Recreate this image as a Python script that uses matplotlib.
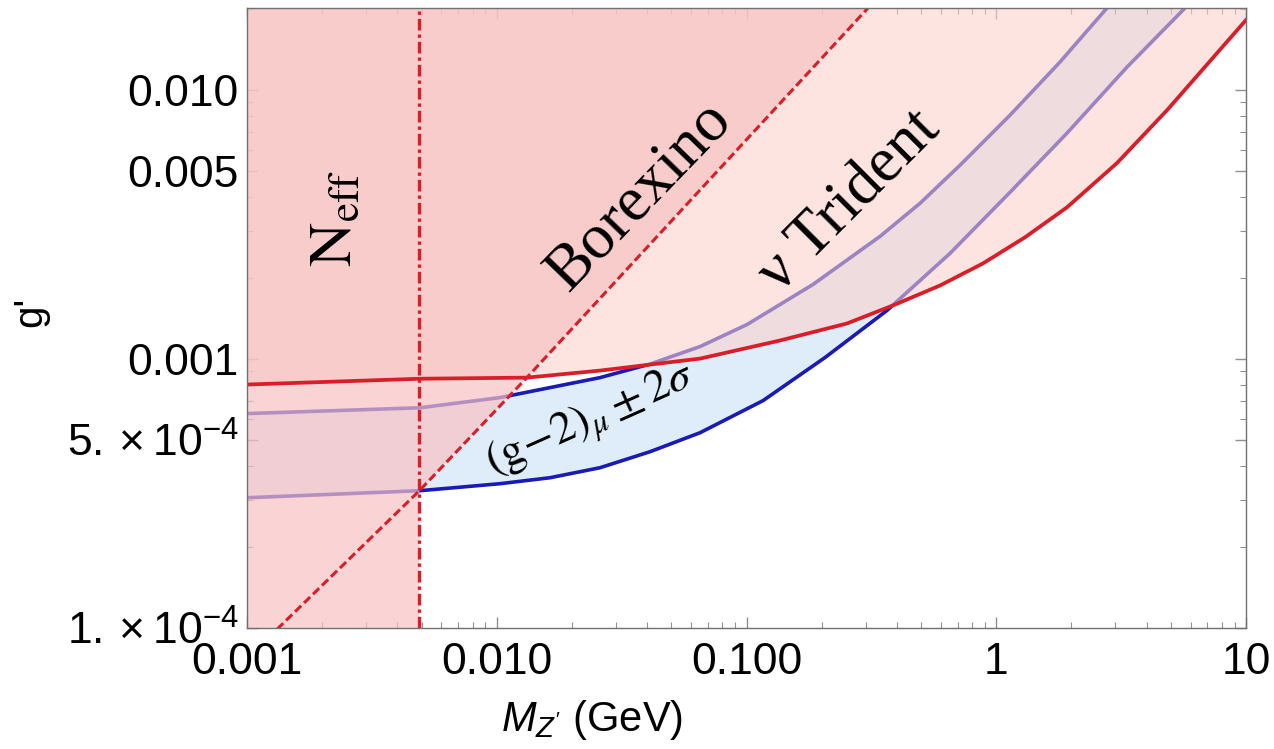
import numpy as np
import matplotlib
matplotlib.use('Agg')
import matplotlib.pyplot as plt
from matplotlib.ticker import FixedLocator, FixedFormatter, NullFormatter

plt.rcParams['font.family'] = ['Liberation Sans', 'DejaVu Sans']
plt.rcParams['mathtext.fontset'] = 'custom'
plt.rcParams['mathtext.rm'] = 'Liberation Sans'
plt.rcParams['mathtext.it'] = 'Liberation Sans:italic'

# ---------------- data ----------------
x_range = [0.001, 10.0]
y_range = [1.0e-4, 0.0202]

neff_mass = 0.0049  # N_eff bound (GeV)

bor_x = [0.00132, 0.0049, 0.0132, 0.3065]
bor_y = [9.9e-5, 3.24e-4, 8.53e-4, 0.0202]

tri_x = [0.001, 0.00493, 0.0132, 0.0259, 0.0652, 0.136, 0.2524, 0.386, 0.596, 0.885,
         1.303, 1.92, 3.04, 4.828, 7.66, 10.0]
tri_y = [8.04e-4, 8.45e-4, 8.53e-4, 9.06e-4, 1.004e-3, 1.172e-3, 1.356e-3, 1.583e-3,
         1.878e-3, 2.268e-3, 2.835e-3, 3.666e-3, 5.35e-3, 8.42e-3, 1.374e-2, 1.822e-2]

g2u_x = [0.001, 0.00493, 0.0103, 0.0259, 0.04108, 0.0652, 0.1005, 0.1846, 0.3423,
         0.4951, 0.716, 1.1353, 1.80, 2.776]
g2u_y = [6.27e-4, 6.59e-4, 7.19e-4, 8.53e-4, 9.58e-4, 1.113e-3, 1.344e-3, 1.894e-3,
         2.858e-3, 3.794e-3, 5.257e-3, 8.07e-3, 1.272e-2, 2.02e-2]

g2l_x = [0.001, 0.00493, 0.0103, 0.01633, 0.0259, 0.04108, 0.0652, 0.1164, 0.2062,
         0.3652, 0.6528, 1.1353, 1.92, 3.338, 5.70]
g2l_y = [3.05e-4, 3.24e-4, 3.44e-4, 3.62e-4, 3.944e-4, 4.523e-4, 5.324e-4, 7.003e-4,
         1.013e-3, 1.516e-3, 2.471e-3, 4.17e-3, 6.92e-3, 1.218e-2, 2.02e-2]

x_ticks = [0.001, 0.01, 0.1, 1, 10]
x_tick_labels = ['0.001', '0.010', '0.100', '1', '10']
y_ticks = [1e-4, 5e-4, 1e-3, 5e-3, 1e-2]
y_tick_labels = [r'$1.\times10^{-4}$', r'$5.\times10^{-4}$', '0.001', '0.005', '0.010']

# ---------------- colours ----------------
red = '#d81e28'
blue = '#1a1ab4'
band_fill = '#deedf9'
tri_fill = (252/255, 209/255, 203/255)
deep_fill = (248/255, 194/255, 196/255)

fig = plt.figure(figsize=(12.74, 7.49), dpi=100)
ax = fig.add_axes([247/1274, 1 - 628/749, (1246 - 247)/1274, (628 - 8)/749])
ax.set_xscale('log')
ax.set_yscale('log')
ax.set_xlim(x_range)
ax.set_ylim(y_range)

# (g-2) band and its boundaries (drawn first, pink regions on top)
ax.fill(g2u_x + g2l_x[::-1], g2u_y + g2l_y[::-1], color=band_fill, lw=0, zorder=1)
ax.plot(g2u_x, g2u_y, color=blue, lw=2.6, zorder=2, solid_joinstyle='round')
ax.plot(g2l_x, g2l_y, color=blue, lw=2.6, zorder=2, solid_joinstyle='round')

# Trident excluded region
ax.fill_between(tri_x, tri_y, y_range[1], color=tri_fill, alpha=0.58, lw=0, zorder=3)

# N_eff + Borexino excluded region
d_x = [x_range[0], neff_mass] + [bx for bx in bor_x if bx >= neff_mass] + [x_range[0]]
d_y = [y_range[0], y_range[0]] + [by for bx, by in zip(bor_x, bor_y) if bx >= neff_mass] + [y_range[1]]
ax.fill(d_x, d_y, color=deep_fill, alpha=0.7, lw=0, zorder=4)

# boundary lines
ax.plot(tri_x, tri_y, color=red, lw=2.7, zorder=5, solid_joinstyle='round')
ax.plot(bor_x, bor_y, color=red, lw=2.2, dashes=(2.8, 1.3), zorder=5)
ax.axvline(neff_mass, color=red, lw=2.4, dashes=(3.5, 1.2, 1.0, 1.2), zorder=5)

# labels inside the plot
ax.text(0.088, 0.661, r'$\mathrm{N}_{\mathrm{eff}}$', transform=ax.transAxes,
        rotation=90, ha='center', va='center', fontsize=44, math_fontfamily='stix',
        zorder=6)
ax.text(0.393, 0.695, 'Borexino', transform=ax.transAxes, rotation=46,
        ha='center', va='center', fontsize=46, family='Liberation Serif', zorder=6)
ax.text(0.603, 0.688, 'ν Trident', transform=ax.transAxes, rotation=45,
        ha='center', va='center', fontsize=46, family='Liberation Serif', zorder=6)
ax.text(0.345, 0.333, r'$(\mathrm{g}\!-\!2)_{\mu}\pm 2\sigma$', transform=ax.transAxes,
        rotation=24, ha='center', va='center', fontsize=33, math_fontfamily='stix',
        zorder=6)

# axes styling (Mathematica-like frame)
for s in ax.spines.values():
    s.set_color('#707070')
    s.set_linewidth(1.0)
    s.set_zorder(7)

ax.xaxis.set_major_locator(FixedLocator(x_ticks))
ax.xaxis.set_major_formatter(FixedFormatter(x_tick_labels))
ax.xaxis.set_minor_locator(FixedLocator([m * 10.0**e for e in range(-3, 1) for m in range(2, 10)]))
ax.xaxis.set_minor_formatter(NullFormatter())
ax.yaxis.set_major_locator(FixedLocator(y_ticks))
ax.yaxis.set_major_formatter(FixedFormatter(y_tick_labels))
ax.yaxis.set_minor_locator(FixedLocator([m * 10.0**e for e in range(-4, -1) for m in range(1, 10)
                                         if m * 10.0**e not in y_ticks]))
ax.yaxis.set_minor_formatter(NullFormatter())

ax.tick_params(which='both', direction='in', top=True, right=True, color='#909090')
ax.tick_params(which='major', length=8, width=1.0, labelsize=32)
ax.tick_params(which='minor', length=4, width=0.8)
ax.tick_params(axis='x', which='major', pad=10)
ax.tick_params(axis='y', which='major', pad=6)

ax.set_xlabel(r"$M_{Z'}$ (GeV)", fontsize=30)
ax.xaxis.set_label_coords(0.345, -0.148)
ax.xaxis.label.set_va('center')
ax.set_ylabel("g'", fontsize=29)
ax.yaxis.set_label_coords(-0.217, 0.51)
ax.yaxis.label.set_va('center')

fig.savefig('out.png', dpi=100)
